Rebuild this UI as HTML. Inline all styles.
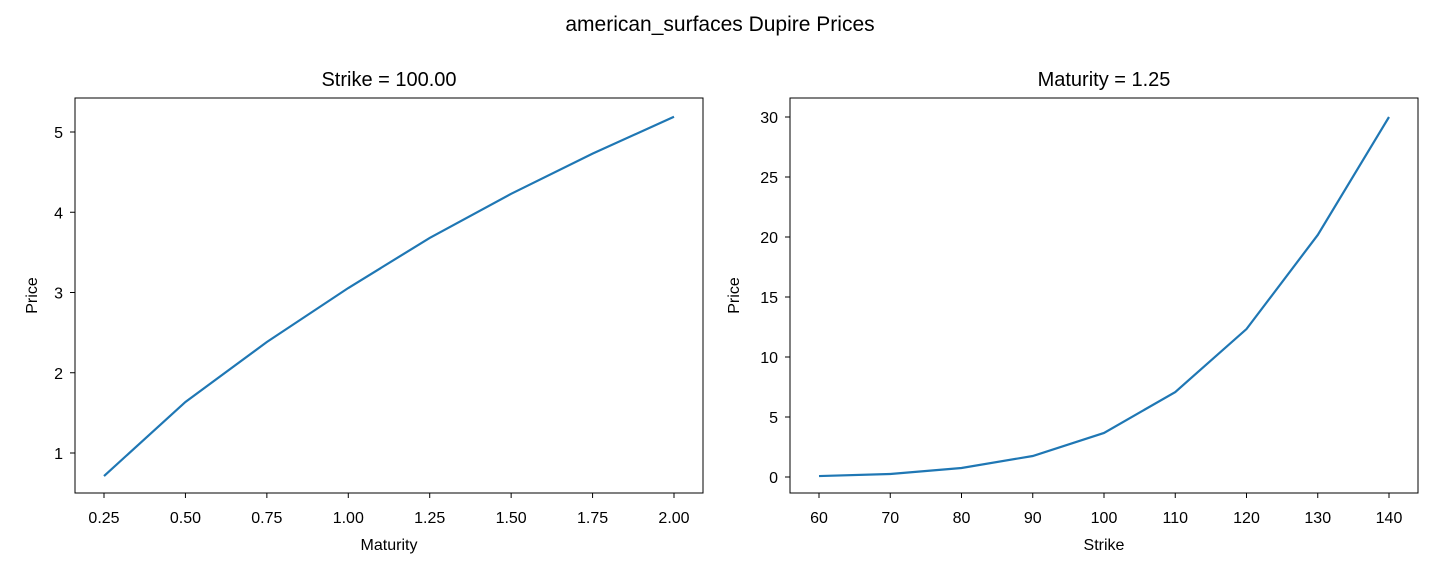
<!DOCTYPE html>
<html><head><meta charset="utf-8">
<style>
body{margin:0;background:#fff;}
svg{display:block;font-family:"Liberation Sans","DejaVu Sans",sans-serif;}
</style></head>
<body>
<svg id="chart" width="1440" height="576" xmlns="http://www.w3.org/2000/svg">
<text x="720" y="31" text-anchor="middle" font-size="21">american_surfaces Dupire Prices</text>
</svg>
<script>
const leftX = [0.25,0.5,0.75,1.0,1.25,1.5,1.75,2.0];
const leftY = [0.713,1.636,2.383,3.056,3.68,4.23,4.73,5.19];
const leftXTicks = [0.25,0.5,0.75,1.0,1.25,1.5,1.75,2.0];
const leftXTickLabels = ["0.25","0.50","0.75","1.00","1.25","1.50","1.75","2.00"];
const leftYTicks = [1,2,3,4,5];
const rightX = [60,70,80,90,100,110,120,130,140];
const rightY = [0.08,0.25,0.75,1.75,3.67,7.08,12.33,20.17,30];
const rightXTicks = [60,70,80,90,100,110,120,130,140];
const rightYTicks = [0,5,10,15,20,25,30];

const NS="http://www.w3.org/2000/svg";
const svg=document.getElementById('chart');
function mk(tag,attrs,parent){const e=document.createElementNS(NS,tag);for(const k in attrs)e.setAttribute(k,attrs[k]);(parent||svg).appendChild(e);return e;}

function panel(p){
  const g=mk('g',{});
  
  
  const sx=v=>p.x0+(v-p.xmin)/(p.xmax-p.xmin)*(p.x1-p.x0);
  const sy=v=>p.y1-(v-p.ymin)/(p.ymax-p.ymin)*(p.y1-p.y0);
  const rect=mk('rect',{x:p.x0,y:p.y0,width:p.x1-p.x0,height:p.y1-p.y0,fill:'none',stroke:'#000','stroke-width':1},g);
  
  
  p.xt.forEach((t,i)=>{
    const x=sx(t);
    mk('line',{x1:x,x2:x,y1:p.y1,y2:p.y1+5,stroke:'#000'},g);
    const tx=mk('text',{x:x,y:p.y1+30,'text-anchor':'middle','font-size':16},g);
    tx.textContent=p.xl[i];
    
    
  });
  p.yt.forEach(t=>{
    const y=sy(t);
    mk('line',{x1:p.x0-5,x2:p.x0,y1:y,y2:y,stroke:'#000'},g);
    const tx=mk('text',{x:p.x0-12,y:y+6,'text-anchor':'end','font-size':16},g);
    tx.textContent=String(t);
    
    
  });
  const path=mk('polyline',{points:p.xs.map((v,i)=>sx(v)+','+sy(p.ys[i])).join(' '),fill:'none',stroke:'#1f77b4','stroke-width':2.2},g);
  
  
  const t=mk('text',{x:(p.x0+p.x1)/2,y:p.y0-12,'text-anchor':'middle','font-size':20},g);
  t.textContent=p.title;
  
  
  const xl=mk('text',{x:(p.x0+p.x1)/2,y:p.y1+57,'text-anchor':'middle','font-size':16},g);
  xl.textContent=p.xlabel;
  
  
  const cy=(p.y0+p.y1)/2;
  const yl=mk('text',{x:p.ylx,y:cy,'text-anchor':'middle','font-size':16,transform:'rotate(-90 '+p.ylx+' '+cy+')'},g);
  yl.textContent='Price';
  
  
}
panel({name:'strike-panel',x0:75,x1:703,y0:98,y1:493,
  xmin:0.25-29/81.43*0.25,xmax:2.0+29/81.43*0.25,
  ymin:1-(493-453)/80.25,ymax:1+(453-98)/80.25,
  xs:leftX,ys:leftY,xt:leftXTicks,xl:leftXTickLabels,yt:leftYTicks,
  title:'Strike = 100.00',xlabel:'Maturity',ylx:37});
panel({name:'maturity-panel',x0:790,x1:1418,y0:98,y1:493,
  xmin:60-29/7.125,xmax:140+29/7.125,
  ymin:-(493-477)/12,ymax:(477-98)/12,
  xs:rightX,ys:rightY,xt:rightXTicks,xl:rightXTicks.map(String),yt:rightYTicks,
  title:'Maturity = 1.25',xlabel:'Strike',ylx:739});
</script>
</body></html>
